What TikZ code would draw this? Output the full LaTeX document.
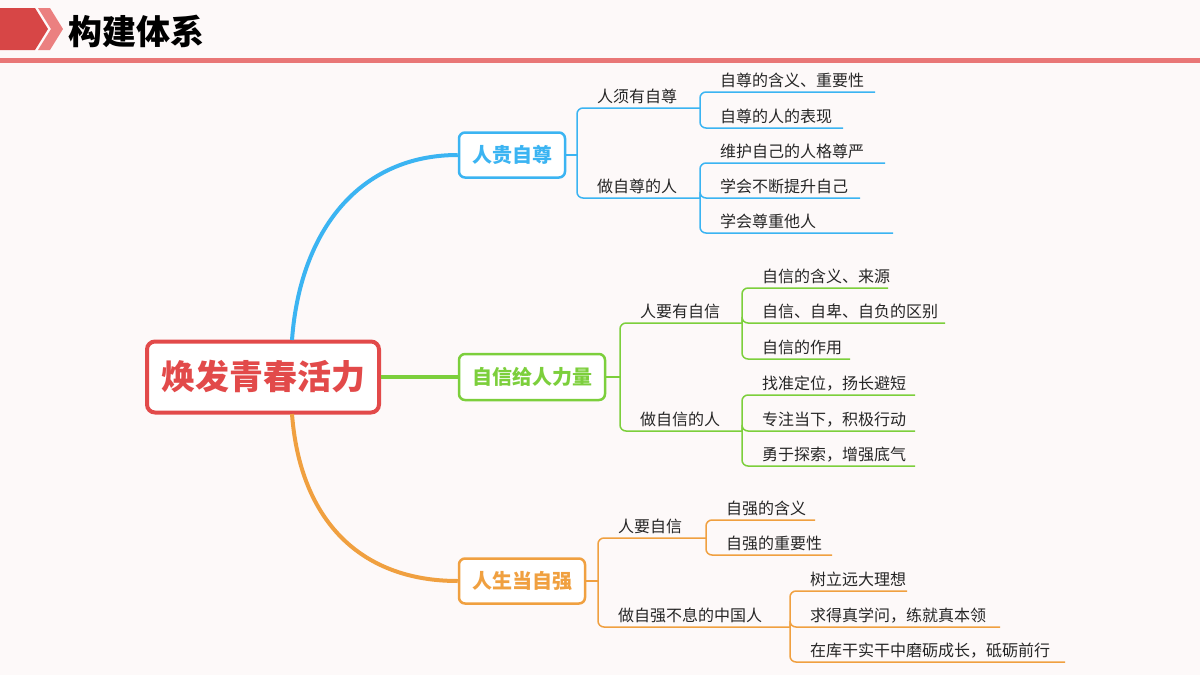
\documentclass[tikz,border=0pt]{standalone}
\usepackage{fontspec}
\setmainfont{Noto Sans CJK SC}
\begin{document}
\begin{tikzpicture}[x=1pt,y=-1pt,
  lbl/.style={anchor=south west,inner sep=0pt,font=\fontsize{16}{16}\selectfont,text=black!85},
  br/.style={line width=1.5pt,rounded corners=6pt},
  hub/.style={draw,line width=2.5pt,rounded corners=6pt,fill=white,font=\fontsize{20}{20}\selectfont\bfseries,inner sep=0pt},
  cb/.style={draw=cB},cg/.style={draw=cG},co/.style={draw=cO}]
\definecolor{cB}{HTML}{3BB4F2}\definecolor{cG}{HTML}{7CCF3C}\definecolor{cO}{HTML}{F0A040}\definecolor{cR}{HTML}{E24A4A}
\useasboundingbox (0,0) rectangle (1200,675);
\fill[fill={rgb,255:red,253;green,249;blue,249}] (0,0) rectangle (1200,675);
% header
\fill[cR!95!black] (0,8) -- (35,8) -- (48,29) -- (35,50) -- (0,50) -- cycle;
\fill[cR!70] (38,8) -- (50,8) -- (63,29) -- (50,50) -- (38,50) -- (51,29) -- cycle;
\node[anchor=west,inner sep=0pt,font=\fontsize{34}{34}\selectfont\bfseries] (title) at (68,31) {构建体系};
\fill[cR!75] (0,58) rectangle (1200,63);
% central
\node[draw=cR,line width=4pt,rounded corners=8pt,fill=white,minimum width=232pt,minimum height=71pt,text=cR,font=\fontsize{34}{34}\selectfont\bfseries] (c) at (263,377) {焕发青春活力};
\node[hub,cb,text=cB,minimum width=106pt,minimum height=45pt] (b) at (512,155) {人贵自尊};
\node[hub,cg,text=cG,minimum width=146pt,minimum height=46pt] (g) at (532,377) {自信给人力量};
\node[hub,co,text=cO,minimum width=126pt,minimum height=45pt] (o) at (522,581) {人生当自强};
\draw[cB,line width=4pt] (292,340) .. controls (300,230) and (360,155) .. (b.west);
\draw[cG,line width=4pt] (c.east) -- (g.west);
\draw[cO,line width=4pt] (292,414) .. controls (300,520) and (360,581) .. (o.west);
% blue
\draw[cB,br] (b.east) -- (577,155);
\foreach \y/\e/\t in {108/700/人须有自尊,198/700/做自尊的人}{\draw[cB,br] (577,155) |- (\e,\y); \node[lbl] at (597,\y-4) {\t};}
\foreach \y/\e/\t in {92/875/自尊的含义、重要性,128/843/自尊的人的表现}{\draw[cB,br] (700,108) |- (\e,\y); \node[lbl] at (720,\y-4) {\t};}
\foreach \y/\e/\t in {163/885/维护自己的人格尊严,198/860/学会不断提升自己,233/893/学会尊重他人}{\draw[cB,br] (700,198) |- (\e,\y); \node[lbl] at (720,\y-4) {\t};}
% green
\draw[cG,br] (g.east) -- (620,377);
\foreach \y/\e/\t in {323/742/人要有自信,431/742/做自信的人}{\draw[cG,br] (620,377) |- (\e,\y); \node[lbl] at (640,\y-4) {\t};}
\foreach \y/\e/\t in {288/888/自信的含义、来源,323/945/自信、自卑、自负的区别,359/850/自信的作用}{\draw[cG,br] (742,323) |- (\e,\y); \node[lbl] at (762,\y-4) {\t};}
\foreach \y/\e/\t in {395/915/找准定位，扬长避短,431/915/专注当下，积极行动,466/915/勇于探索，增强底气}{\draw[cG,br] (742,431) |- (\e,\y); \node[lbl] at (762,\y-4) {\t};}
% orange
\draw[cO,br] (o.east) -- (598,581);
\draw[cO,br] (598,581) |- (706,538); \node[lbl] at (618,534) {人要自信};
\draw[cO,br] (598,581) |- (790,627); \node[lbl] at (618,623) {做自强不息的中国人};
\foreach \y/\e/\t in {520/815/自强的含义,555/832/自强的重要性}{\draw[cO,br] (706,538) |- (\e,\y); \node[lbl] at (726,\y-4) {\t};}
\foreach \y/\e/\t in {591/907/树立远大理想,627/1000/求得真学问，练就真本领,662/1065/在库干实干中磨砺成长，砥砺前行}{\draw[cO,br] (790,627) |- (\e,\y); \node[lbl] at (810,\y-4) {\t};}
\end{tikzpicture}
\end{document}
